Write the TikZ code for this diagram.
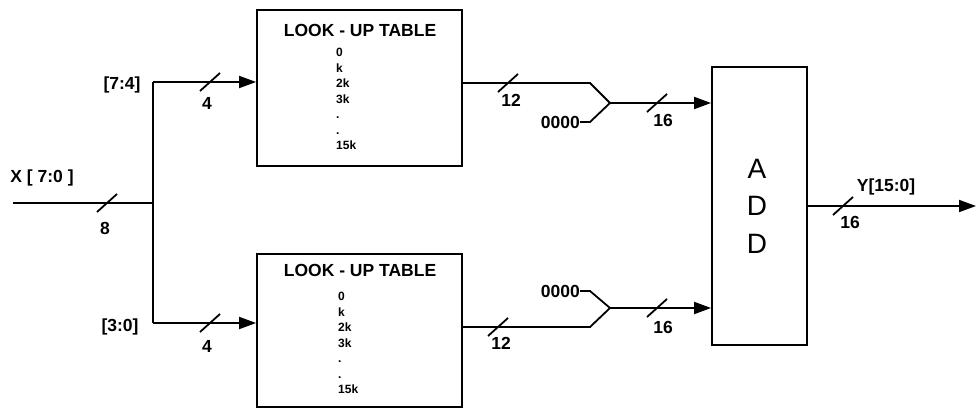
\documentclass[tikz,border=0pt]{standalone}
\usepackage{fontspec}
\setmainfont{Liberation Sans}
\usetikzlibrary{arrows.meta}
\newcommand\busmark[1]{\draw[wire] (#1) ++(-10,9) -- ++(20,-18);}
\begin{document}
\begin{tikzpicture}[x=1pt,y=-1pt,
  wire/.style={line width=1.8pt},
  arr/.style={wire,-{Triangle[length=17pt,width=12pt]}},
  blk/.style={draw,line width=1.8pt,inner sep=0pt},
  lbl/.style={font=\bfseries\fontsize{17.5}{17.5}\selectfont,inner sep=0pt},
  ttl/.style={font=\bfseries\fontsize{17.5}{17.5}\selectfont,inner sep=0pt},
  lst/.style={font=\bfseries\fontsize{12}{15.5}\selectfont,inner sep=0pt,align=left,anchor=north west},
  big/.style={font=\fontsize{28}{37.5}\selectfont,inner sep=0pt,align=center}
]
\useasboundingbox (0,0) rectangle (976,409);
% blocks
\node[blk,minimum width=205pt,minimum height=156pt] (lut1) at (359.5,88) {};
\node[blk,minimum width=205pt,minimum height=153pt] (lut2) at (359.5,330.5) {};
\node[blk,minimum width=95pt,minimum height=278pt] (add) at (759.5,206) {};
\node[ttl] (t1) at (360,30) {LOOK - UP TABLE};
\node[ttl] (t2) at (360,270) {LOOK - UP TABLE};
\node[lst] (l1) at (336,48) {0\\k\\2k\\3k\\.\\.\\15k};
\node[lst] (l2) at (338,292) {0\\k\\2k\\3k\\.\\.\\15k};
\node[big] (addtxt) at (757,206) {A\\D\\D};
% labels
\node[lbl] (xlab) at (42,178) {X [ 7:0 ]};
\node[lbl] (hi) at (122,85) {[7:4]};
\node[lbl] (lo) at (120,327) {[3:0]};
\node[lbl] (ylab) at (886,187) {Y[15:0]};
\node[lbl,anchor=east] (z1) at (580,122) {0000};
\node[lbl,anchor=east] (z2) at (580,291) {0000};
\node[lbl] (w8) at (105,228) {8};
\node[lbl] (w4a) at (207,103) {4};
\node[lbl] (w4b) at (207,346) {4};
\node[lbl] (w12a) at (511,100) {12};
\node[lbl] (w12b) at (501,343) {12};
\node[lbl] (w16a) at (663,120) {16};
\node[lbl] (w16b) at (663,327) {16};
\node[lbl] (w16c) at (850,222) {16};
% coordinates
\coordinate (xin) at (13,203);
\coordinate (split) at (153,203);
\coordinate (sTop) at (153,82);
\coordinate (sBot) at (153,323);
\coordinate (m1) at (590,83);
\coordinate (j1) at (610,103);
\coordinate (e1) at (590,122);
\coordinate (m2) at (590,327);
\coordinate (j2) at (610,308);
\coordinate (e2) at (590,291);
\coordinate (yout) at (976,206);
% wires
\draw[wire] (xin) -- (split);
\draw[wire] (sTop) -- (sBot);
\draw[arr] (sTop) -- (lut1.west |- sTop);
\draw[arr] (sBot) -- (lut2.west |- sBot);
\draw[wire] (lut1.east |- m1) -- (m1) -- (j1);
\draw[wire] (z1.east) -- (e1) -- (j1);
\draw[arr] (j1) -- (add.west |- j1);
\draw[wire] (lut2.east |- m2) -- (m2) -- (j2);
\draw[wire] (z2.east) -- (e2) -- (j2);
\draw[arr] (j2) -- (add.west |- j2);
\draw[arr] (add.east) -- (yout);
% bus marks
\busmark{107,203}
\busmark{210,82}
\busmark{210,323}
\busmark{508,83}
\busmark{498,327}
\busmark{657,103}
\busmark{657,308}
\busmark{843,206}
\end{tikzpicture}
\end{document}
